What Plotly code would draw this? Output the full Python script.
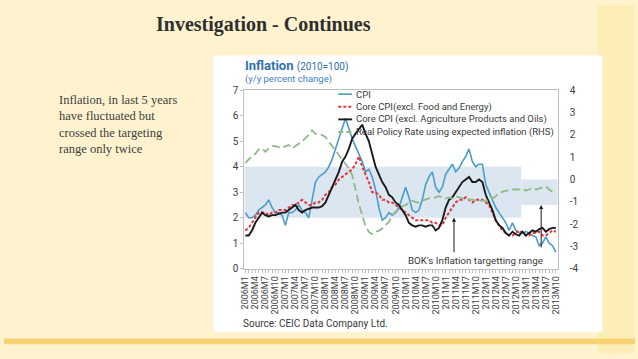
import plotly.graph_objects as go

# ---------------- data ----------------
years = list(range(2006, 2014))
months = [f"{y}M{m}" for y in years for m in range(1, 13)][:94]   # 2006M1 .. 2013M10

cpi = [2.2, 2.0, 2.0, 2.1, 2.3, 2.4, 2.5, 2.7, 2.4, 2.2, 2.2, 2.1,
       1.7, 2.2, 2.2, 2.3, 2.5, 2.3, 2.2, 2.0, 2.7, 3.4, 3.6, 3.7,
       3.8, 4.0, 4.3, 4.7, 5.1, 5.5, 5.9, 5.5, 5.1, 4.8, 4.5, 4.2,
       3.8, 3.9, 3.6, 3.1, 2.4, 1.9, 2.0, 2.2, 2.1, 2.2, 2.4, 2.8,
       3.2, 2.8, 2.3, 2.2, 2.3, 2.7, 3.3, 3.6, 3.8, 3.2, 3.0, 3.2,
       3.7, 3.9, 4.1, 3.8, 3.95, 4.2, 4.4, 4.7, 4.2, 4.0, 4.1, 4.1,
       3.3, 3.0, 2.7, 2.4, 2.2, 2.0, 1.8, 1.5, 1.8, 1.5, 1.4, 1.4,
       1.45, 1.4, 1.3, 1.25, 0.9, 1.0, 1.25, 1.0, 0.9, 0.65]

core_food_energy = [1.5, 1.6, 1.8, 2.0, 2.2, 2.2, 2.2, 2.1, 2.2, 2.2, 2.3, 2.3,
                    2.3, 2.4, 2.5, 2.5, 2.6, 2.7, 2.6, 2.5, 2.5, 2.6, 2.6, 2.7,
                    2.9, 3.0, 3.2, 3.3, 3.5, 3.6, 3.7, 3.8, 3.9, 4.1, 4.4, 4.0,
                    3.7, 3.4, 3.0, 3.0, 2.9, 2.7, 2.7, 2.6, 2.6, 2.5, 2.4, 2.3,
                    2.2, 2.1, 2.0, 1.9, 1.9, 1.9, 1.9, 1.9, 1.8, 1.8, 1.7, 1.7,
                    2.0, 2.2, 2.4, 2.6, 2.7, 2.7, 2.8, 2.7, 2.6, 2.7, 2.7, 2.7,
                    2.6, 2.5, 2.2, 1.9, 1.7, 1.5, 1.4, 1.3, 1.3, 1.4, 1.5, 1.4,
                    1.3, 1.3, 1.4, 1.4, 1.45, 1.3, 1.3, 1.4, 1.5, 1.45]

core_agri_oil = [1.3, 1.3, 1.5, 1.8, 2.0, 2.2, 2.1, 2.05, 2.1, 2.1, 2.15, 2.2,
                 2.2, 2.3, 2.4, 2.5, 2.3, 2.2, 2.3, 2.35, 2.4, 2.4, 2.4, 2.45,
                 2.6, 2.9, 3.2, 3.5, 3.8, 4.2, 4.4, 4.7, 5.1, 5.3, 5.5, 5.65,
                 5.3, 5.0, 4.5, 4.0, 3.7, 3.4, 3.2, 2.9, 2.8, 2.6, 2.5, 2.3,
                 2.1, 1.8, 1.7, 1.65, 1.7, 1.7, 1.65, 1.7, 1.7, 1.5, 1.6, 1.9,
                 2.4, 2.7, 2.8, 3.0, 3.2, 3.4, 3.5, 3.6, 3.4, 3.4, 3.5, 3.4,
                 2.9, 2.6, 2.3, 1.9, 1.7, 1.6, 1.4, 1.3, 1.45, 1.35, 1.3, 1.45,
                 1.3, 1.4, 1.5, 1.45, 1.55, 1.6, 1.45, 1.55, 1.6, 1.6]

real_policy_rate = [0.75, 0.9, 1.05, 1.15, 1.35, 1.4, 1.25, 1.4, 1.5, 1.5, 1.45, 1.4,
                    1.5, 1.55, 1.4, 1.5, 1.6, 1.7, 1.85, 2.0, 2.2, 2.05, 2.0, 2.0,
                    1.9, 1.7, 1.5, 1.3, 1.1, 0.9, 0.7, 0.5, 0.2, -0.5, -1.1, -1.6,
                    -2.1, -2.35, -2.45, -2.35, -2.3, -2.2, -2.05, -1.9, -1.6, -1.45, -1.35, -1.2,
                    -1.15, -1.05, -0.95, -1.0, -1.05, -0.95, -0.9, -0.85, -0.85, -0.8, -0.75, -0.8,
                    -0.85, -0.8, -0.85, -0.75, -0.8, -0.85, -0.85, -0.9, -0.9, -0.95, -0.95, -0.95,
                    -0.95, -0.95, -0.85, -0.75, -0.6, -0.55, -0.5, -0.5, -0.45, -0.45, -0.45, -0.4,
                    -0.5, -0.45, -0.4, -0.45, -0.4, -0.35, -0.3, -0.45, -0.55, None]

target_2010_2012 = (2.0, 4.0)
target_2013 = (2.5, 3.5)

left_ticks = [0, 1, 2, 3, 4, 5, 6, 7]
right_ticks = [-4, -3, -2, -1, 0, 1, 2, 3, 4]
right_tick_text = ["-4", "-3", "-2", "-1", "0", "1", "2", "3", "4"]

series_names = ["CPI", "Core CPI(excl. Food and Energy)",
                "Core CPI (excl. Agriculture Products and Oils)",
                "Real Policy Rate using expected inflation (RHS)"]

# ---------------- styling ----------------
W, H = 638, 359
def px(x): return x / W
def py(y): return 1 - y / H

BLUE = "#4B9CC6"
RED = "#E0363C"
BLACK = "#1A1A1A"
GREEN = "#8DBA88"
BAND = "#DCE6F1"
TXT = "#3A3A3A"
SANS = "Roboto"
SERIF = "Liberation Serif"

fig = go.Figure()
fig.add_trace(go.Scatter(x=months, y=cpi, mode="lines", name=series_names[0],
                         line=dict(color=BLUE, width=1.6)))
fig.add_trace(go.Scatter(x=months, y=core_food_energy, mode="lines", name=series_names[1],
                         line=dict(color=RED, width=2, dash="3px,2px")))
fig.add_trace(go.Scatter(x=months, y=core_agri_oil, mode="lines", name=series_names[2],
                         line=dict(color=BLACK, width=1.9)))
fig.add_trace(go.Scatter(x=months, y=real_policy_rate, mode="lines", name=series_names[3],
                         line=dict(color=GREEN, width=1.8, dash="8px,4px"), yaxis="y2"))

xr0, xr1 = -0.3, 93.6
band_split = 82.6
shapes = [
    # slide decoration
    dict(type="rect", xref="paper", yref="paper", x0=px(600), x1=1, y0=0, y1=1,
         fillcolor="#FDEDB6", line_width=0, layer="below"),
    dict(type="rect", xref="paper", yref="paper", x0=0, x1=1, y0=py(350), y1=py(344),
         fillcolor="#F8D272", line_width=0, layer="below"),
    dict(type="rect", xref="paper", yref="paper", x0=px(212), x1=px(605), y0=py(337), y1=py(52),
         fillcolor="white", line_width=0, layer="below"),
    # target bands
    dict(type="rect", xref="x", yref="y", x0=xr0, x1=band_split,
         y0=target_2010_2012[0], y1=target_2010_2012[1],
         fillcolor=BAND, line_width=0, layer="below"),
    dict(type="rect", xref="x", yref="y", x0=band_split, x1=xr1,
         y0=target_2013[0], y1=target_2013[1],
         fillcolor=BAND, line_width=0, layer="below"),
]

# manual legend (compact, as in the source image)
leg_rows = [92, 105, 118, 131]
leg_styles = [dict(color=BLUE, width=1.6), dict(color=RED, width=2, dash="3px,2px"),
              dict(color=BLACK, width=1.9), dict(color=GREEN, width=1.8, dash="5px,3px")]
annotations = []
for name, yy, st in zip(series_names, leg_rows, leg_styles):
    shapes.append(dict(type="line", xref="paper", yref="paper", x0=px(338), x1=px(352),
                       y0=py(yy), y1=py(yy), line=st))
    annotations.append(dict(text=name, xref="paper", yref="paper", x=px(354), y=py(yy),
                            xanchor="left", yanchor="middle", showarrow=False,
                            font=dict(family=SANS, size=9.5, color=TXT)))

annotations += [
    dict(text="<b>Investigation - Continues</b>", xref="paper", yref="paper",
         x=px(262), y=py(20), xanchor="center", yanchor="middle", showarrow=False,
         font=dict(family=SERIF, size=20, color="#2E2E2E")),
    dict(text="Inflation, in last 5 years<br>have fluctuated but<br>crossed the targeting<br>range only twice",
         xref="paper", yref="paper", x=px(54), y=py(89), xanchor="left", yanchor="top",
         align="left", showarrow=False, font=dict(family=SERIF, size=12.5, color="#404040")),
    dict(text="<b>Inflation</b> <span style='font-size:10px'>(2010=100)</span>",
         xref="paper", yref="paper", x=px(242), y=py(62), xanchor="left", yanchor="middle",
         showarrow=False, font=dict(family=SANS, size=13, color="#2F72B0")),
    dict(text="(y/y percent change)", xref="paper", yref="paper", x=px(242), y=py(76),
         xanchor="left", yanchor="middle", showarrow=False,
         font=dict(family=SANS, size=9.5, color="#3F7FBF")),
    dict(text="Source: CEIC Data Company Ltd.", xref="paper", yref="paper", x=px(240), y=py(329),
         xanchor="left", yanchor="middle", showarrow=False,
         font=dict(family=SANS, size=10, color=TXT)),
    dict(text="BOK's Inflation targetting range", xref="paper", yref="paper", x=px(477), y=py(264),
         xanchor="center", yanchor="middle", showarrow=False,
         font=dict(family=SANS, size=9.8, color=TXT)),
    # arrows pointing at the target band
    dict(x=62.5, y=target_2010_2012[0], xref="x", yref="y", text="", showarrow=True,
         ax=0, ay=36, arrowhead=2, arrowsize=0.8, arrowwidth=1, arrowcolor=BLACK),
    dict(x=88.6, y=target_2013[0], xref="x", yref="y", text="", showarrow=True,
         ax=0, ay=44, arrowhead=2, arrowsize=0.8, arrowwidth=1, arrowcolor=BLACK),
]

axis_line = "#BFBFBF"
fig.update_layout(
    width=W, height=H, margin=dict(l=0, r=0, t=0, b=0),
    paper_bgcolor="#FEF3CE", plot_bgcolor="white",
    showlegend=False,
    xaxis=dict(domain=[px(243), px(560)], type="category", range=[xr0, xr1],
               tickmode="linear", tick0=0, dtick=1, ticklabelstep=3,
               tickangle=-90, ticks="outside", ticklen=3, tickcolor=axis_line,
               showline=True, linecolor=axis_line, linewidth=1, mirror=True,
               showgrid=False, zeroline=False,
               tickfont=dict(family=SANS, size=9, color="#404040")),
    yaxis=dict(domain=[py(272), py(88)], range=[0, 7], tickmode="array", tickvals=left_ticks,
               ticks="outside", ticklen=3, tickcolor=axis_line,
               showline=True, linecolor=axis_line, linewidth=1,
               showgrid=False, zeroline=False,
               tickfont=dict(family=SANS, size=10, color="#404040")),
    yaxis2=dict(overlaying="y", side="right", range=[-4, 4], tickmode="array",
                tickvals=right_ticks, ticktext=right_tick_text,
                ticks="outside", ticklen=9, tickcolor="rgba(0,0,0,0)",
                showline=True, linecolor=axis_line, linewidth=1,
                showgrid=False, zeroline=False,
                tickfont=dict(family=SANS, size=10, color="#404040")),
    shapes=shapes, annotations=annotations,
)

fig.write_html("out.html", config={"displayModeBar": False},
               post_script="document.body.style.margin='0';"
                           "document.documentElement.style.overflow='hidden';")
